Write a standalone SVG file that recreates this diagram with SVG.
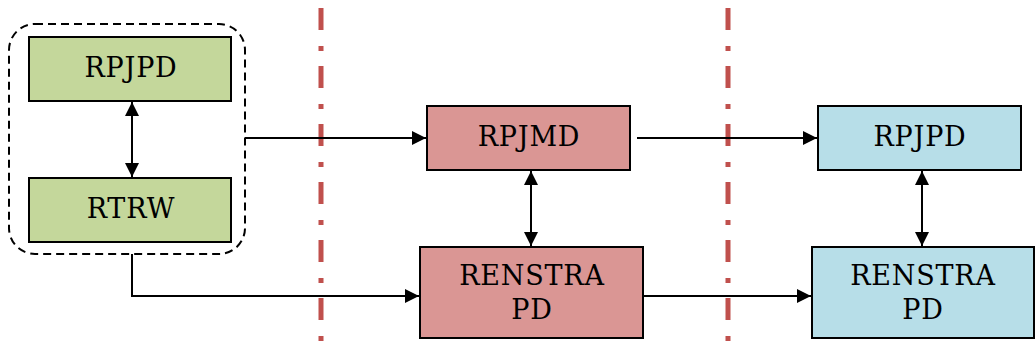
<svg xmlns="http://www.w3.org/2000/svg" width="1035" height="345" viewBox="0 0 1035 345">
<style>
.box{stroke:#000;stroke-width:2}
.g{fill:#c4d79b}.r{fill:#da9694}.b{fill:#b7dee8}
.t{font-family:"DejaVu Serif","Liberation Serif",serif;font-size:27px;letter-spacing:0.8px;fill:#000;text-anchor:middle}
.c{fill:none;stroke:#000;stroke-width:2}
.sep{stroke:#c0504d;stroke-width:5;stroke-dasharray:22 16 5 15}
</style>
<defs>
<marker id="ah" viewBox="0 0 10 10" refX="10" refY="5" markerWidth="15" markerHeight="14" markerUnits="userSpaceOnUse" orient="auto-start-reverse">
<path d="M0,0 L10,5 L0,10 z" fill="#000"/>
</marker>
</defs>
<g id="separators">
<line class="sep" x1="321" y1="8" x2="321" y2="345"/>
<line class="sep" x1="728" y1="8" x2="728" y2="345"/>
</g>
<g id="group-left">
<rect x="9" y="24" width="236" height="230" rx="26" fill="none" stroke="#000" stroke-width="2" stroke-dasharray="8 5"/>
</g>
<g id="rpjpd-green">
<rect class="box g" x="29" y="37" width="202" height="64"/>
<text class="t" x="131" y="77">RPJPD</text>
</g>
<g id="rtrw">
<rect class="box g" x="29" y="178" width="202" height="64"/>
<text class="t" x="131" y="218">RTRW</text>
</g>
<g id="rpjmd">
<rect class="box r" x="427" y="106" width="203" height="64"/>
<text class="t" x="529" y="146">RPJMD</text>
</g>
<g id="renstra-red">
<rect class="box r" x="420" y="247" width="223" height="91"/>
<text class="t" x="532" y="285">RENSTRA</text>
<text class="t" x="532" y="319">PD</text>
</g>
<g id="rpjpd-blue">
<rect class="box b" x="818" y="106" width="203" height="64"/>
<text class="t" x="920" y="146">RPJPD</text>
</g>
<g id="renstra-blue">
<rect class="box b" x="812" y="247" width="222" height="91"/>
<text class="t" x="923" y="285">RENSTRA</text>
<text class="t" x="923" y="319">PD</text>
</g>
<g id="connectors">
<line class="c" x1="132" y1="102" x2="132" y2="177" marker-start="url(#ah)" marker-end="url(#ah)"/>
<line class="c" x1="245" y1="138" x2="426" y2="138" marker-end="url(#ah)"/>
<polyline class="c" points="132,254 132,296 419,296" marker-end="url(#ah)"/>
<line class="c" x1="531" y1="171" x2="531" y2="246" marker-start="url(#ah)" marker-end="url(#ah)"/>
<line class="c" x1="637" y1="138" x2="817" y2="138" marker-end="url(#ah)"/>
<line class="c" x1="643" y1="296" x2="811" y2="296" marker-end="url(#ah)"/>
<line class="c" x1="922" y1="171" x2="922" y2="246" marker-start="url(#ah)" marker-end="url(#ah)"/>
</g>
</svg>
